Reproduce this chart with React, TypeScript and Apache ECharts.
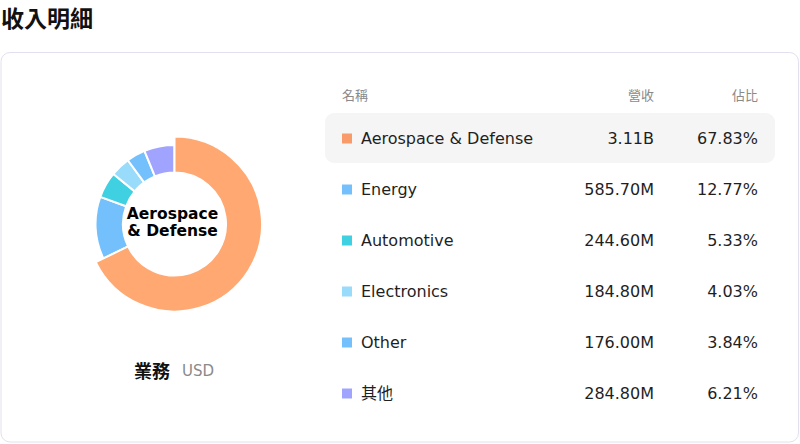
import React, { useEffect, useRef } from "react";
import * as echarts from "echarts";

const names = ["Aerospace & Defense", "Energy", "Automotive", "Electronics", "Other", "其他"];
const revenue = [3110, 585.7, 244.6, 184.8, 176.0, 284.8]; // millions USD
const revenueLabels = ["3.11B", "585.70M", "244.60M", "184.80M", "176.00M", "284.80M"];
const shareLabels = ["67.83%", "12.77%", "5.33%", "4.03%", "3.84%", "6.21%"];
const colors = ["#F99A6B", "#74C0FC", "#3FD0E2", "#99DBFA", "#74C0FC", "#A1A4FE"];
const headers = ["名稱", "營收", "佔比"];

const FONT = "'DejaVu Sans', 'Noto Sans CJK TC', sans-serif";

const App: React.FC = () => {
  const chartRef = useRef<HTMLDivElement>(null);

  useEffect(() => {
    if (!chartRef.current) return;
    const chart = echarts.init(chartRef.current, undefined, { renderer: "svg" });

    const rowTop = 138.5;
    const rowGap = 51;

    const rows: any[] = [];
    names.forEach((name, i) => {
      const y = rowTop + i * rowGap;
      rows.push(
        {
          type: "rect",
          shape: { x: 342, y: y - 5, width: 10, height: 10 },
          style: { fill: colors[i] },
          z: 10,
        },
        {
          type: "text",
          x: 361,
          y,
          style: { text: name, font: `16px ${FONT}`, fill: "#1f1f1f", textVerticalAlign: "middle" },
          z: 10,
        },
        {
          type: "text",
          x: 654,
          y,
          style: {
            text: revenueLabels[i],
            font: `16px ${FONT}`,
            fill: "#1f1f1f",
            textAlign: "right",
            textVerticalAlign: "middle",
          },
          z: 10,
        },
        {
          type: "text",
          x: 758,
          y,
          style: {
            text: shareLabels[i],
            font: `16px ${FONT}`,
            fill: "#1f1f1f",
            textAlign: "right",
            textVerticalAlign: "middle",
          },
          z: 10,
        }
      );
    });

    const option = {
      animation: false,
      graphic: [
        {
          type: "text",
          x: 1,
          y: 17,
          style: {
            text: "收入明細",
            font: `bold 23px 'Noto Sans CJK TC', sans-serif`,
            fill: "#111",
            textVerticalAlign: "middle",
          },
        },
        {
          type: "rect",
          shape: { x: 1, y: 52.5, width: 797.5, height: 389.5, r: 9 },
          style: { fill: "#fff", stroke: "#e2e0ee", lineWidth: 1 },
          z: -10,
        },
        {
          type: "rect",
          shape: { x: 325, y: 113, width: 450, height: 50, r: 9 },
          style: { fill: "#f5f5f5" },
          z: 1,
        },
        {
          type: "text",
          x: 342,
          y: 95,
          style: { text: headers[0], font: `13px ${FONT}`, fill: "#8a8a8a", textVerticalAlign: "middle" },
        },
        {
          type: "text",
          x: 654,
          y: 95,
          style: {
            text: headers[1],
            font: `13px ${FONT}`,
            fill: "#8a8a8a",
            textAlign: "right",
            textVerticalAlign: "middle",
          },
        },
        {
          type: "text",
          x: 758,
          y: 95,
          style: {
            text: headers[2],
            font: `13px ${FONT}`,
            fill: "#8a8a8a",
            textAlign: "right",
            textVerticalAlign: "middle",
          },
        },
        ...rows,
        {
          type: "text",
          x: 134,
          y: 370,
          style: {
            text: "業務",
            font: `bold 18px 'Noto Sans CJK TC', sans-serif`,
            fill: "#111",
            textVerticalAlign: "middle",
          },
        },
        {
          type: "text",
          x: 182,
          y: 371,
          style: { text: "USD", font: `15px ${FONT}`, fill: "#8a8a8a", textVerticalAlign: "middle" },
        },
      ],
      series: [
        {
          type: "pie",
          center: [174.5, 224],
          radius: [51.5, 79],
          startAngle: 90,
          clockwise: true,
          avoidLabelOverlap: false,
          itemStyle: { borderColor: "#fff", borderWidth: 2 },
          label: { show: false, position: "center" },
          labelLine: { show: false },
          emphasis: {
            scale: true,
            scaleSize: 8.5,
            label: {
              show: true,
              fontFamily: FONT,
              fontWeight: "bold",
              fontSize: 15.5,
              lineHeight: 17,
              color: "#000",
              offset: [-2, -2],
              formatter: (p: any) => p.name.replace(" & ", "\n& "),
            },
          },
          data: names.map((name, i) => ({
            name,
            value: revenue[i],
            itemStyle: { color: colors[i] },
            emphasis: i === 0 ? { itemStyle: { color: "#FFA871" } } : undefined,
          })),
        },
      ],
    };

    chart.setOption(option);
    chart.dispatchAction({ type: "highlight", seriesIndex: 0, dataIndex: 0 });

    return () => {
      chart.dispose();
    };
  }, []);

  return (
    <div
      ref={chartRef}
      style={{ position: "absolute", left: 0, top: 0, width: 800, height: 444, background: "#fff" }}
    />
  );
};

export default App;
